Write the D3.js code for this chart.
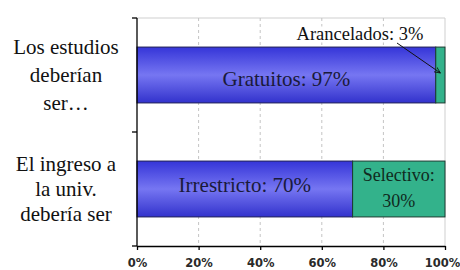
<!DOCTYPE html>
<html>
<head>
<meta charset="utf-8">
<script src="https://cdn.jsdelivr.net/npm/d3@7"></script>
<style>
  html, body { margin: 0; padding: 0; background: #fff; }
  .serif { font-family: 'Liberation Serif', 'Times New Roman', serif; }
</style>
</head>
<body>
<div id="chart"></div>
<script>
const categories = ['estudios', 'ingreso'];
const categoryLines = [['Los estudios', 'deberían', 'ser…'], ['El ingreso a', 'la univ.', 'debería ser']];
const firstValues = [97, 70];
const secondValues = [3, 30];
const firstLabels = ['Gratuitos: 97%', 'Irrestricto: 70%'];
const secondLabels = [['Arancelados: 3%'], ['Selectivo:', '30%']];
const tickValues = [0, 20, 40, 60, 80, 100];

const width = 460, height = 270;
const margin = {top: 18, right: 15, bottom: 24, left: 137};

const svg = d3.select('#chart').append('svg')
    .attr('width', width)
    .attr('height', height)
    .attr('viewBox', `0 0 ${width} ${height}`);

const x = d3.scaleLinear()
    .domain([0, 100])
    .range([margin.left, width - margin.right]);

const y = d3.scaleBand()
    .domain(categories)
    .range([margin.top, height - margin.bottom])
    .padding(0);

const barH = y.bandwidth() * 0.49;
const barY = c => y(c) + (y.bandwidth() - barH) / 2;

// blue gradient like the office chart
const defs = svg.append('defs');
const grad = defs.append('linearGradient')
    .attr('id', 'blue').attr('x1', 0).attr('y1', 0).attr('x2', 0).attr('y2', 1);
grad.append('stop').attr('offset', '0%').attr('stop-color', '#3535d8');
grad.append('stop').attr('offset', '50%').attr('stop-color', '#7676f2');
grad.append('stop').attr('offset', '100%').attr('stop-color', '#3232cc');

defs.append('marker')
    .attr('id', 'arrow')
    .attr('viewBox', '0 0 10 10')
    .attr('refX', 9).attr('refY', 5)
    .attr('markerWidth', 7).attr('markerHeight', 7)
    .attr('markerUnits', 'userSpaceOnUse')
    .attr('orient', 'auto')
  .append('path')
    .attr('d', 'M0,1 L9,5 L0,9')
    .attr('fill', 'none')
    .attr('stroke', '#111')
    .attr('stroke-width', 1.2);

// plot border (top and right) and dashed grid
svg.append('path')
    .attr('d', `M${x(0)},${margin.top}H${x(100)}V${height - margin.bottom}`)
    .attr('fill', 'none')
    .attr('stroke', '#cfcfcf');

svg.append('g')
  .selectAll('line')
  .data(tickValues.filter(d => d > 0 && d < 100))
  .join('line')
    .attr('x1', d => x(d)).attr('x2', d => x(d))
    .attr('y1', margin.top).attr('y2', height - margin.bottom)
    .attr('stroke', '#c4c4c4')
    .attr('stroke-dasharray', '3,3');

// bars
const bars = svg.append('g');
bars.selectAll('rect.first')
  .data(categories)
  .join('rect')
    .attr('class', 'first')
    .attr('x', x(0))
    .attr('y', barY)
    .attr('width', (d, i) => x(firstValues[i]) - x(0))
    .attr('height', barH)
    .attr('fill', 'url(#blue)')
    .attr('stroke', '#1c1c55')
    .attr('stroke-width', 1);

bars.selectAll('rect.second')
  .data(categories)
  .join('rect')
    .attr('class', 'second')
    .attr('x', (d, i) => x(firstValues[i]))
    .attr('y', barY)
    .attr('width', (d, i) => x(firstValues[i] + secondValues[i]) - x(firstValues[i]))
    .attr('height', barH)
    .attr('fill', '#33b28b')
    .attr('stroke', '#1c3a30')
    .attr('stroke-width', 1);

// labels inside the blue bars (first sits a bit low, second a bit high)
const labelDy = ['0.52em', '0.12em'];
svg.append('g')
  .selectAll('text')
  .data(categories)
  .join('text')
    .attr('class', 'serif')
    .attr('x', (d, i) => x(firstValues[i] / 2))
    .attr('y', d => y(d) + y.bandwidth() / 2)
    .attr('dy', (d, i) => labelDy[i])
    .attr('text-anchor', 'middle')
    .attr('font-size', 21)
    .attr('fill', '#1a1a3a')
    .text((d, i) => firstLabels[i]);

// Selectivo label inside green bar
const sel = svg.append('text')
    .attr('class', 'serif')
    .attr('x', x(firstValues[1] + secondValues[1] / 2))
    .attr('y', y(categories[1]) + y.bandwidth() / 2)
    .attr('text-anchor', 'middle')
    .attr('font-size', 18)
    .attr('fill', '#102a20');
secondLabels[1].forEach((t, j) => {
  sel.append('tspan')
      .attr('x', x(firstValues[1] + secondValues[1] / 2))
      .attr('dy', j === 0 ? '-0.45em' : '1.45em')
      .text(t);
});

// Arancelados callout with arrow
const ax = x(firstValues[0] + secondValues[0] / 2);
const ay = y(categories[0]) + y.bandwidth() / 2;
const callX = 360, callY = 34;
const call = svg.append('text')
    .attr('class', 'serif')
    .attr('x', callX)
    .attr('y', callY)
    .attr('dy', '0.35em')
    .attr('text-anchor', 'middle')
    .attr('font-size', 18.5)
    .attr('fill', '#111')
    .text(secondLabels[0][0]);
const bb = call.node().getBBox();
svg.insert('rect', () => call.node())
    .attr('x', bb.x - 2).attr('y', bb.y + 2)
    .attr('width', bb.width + 4).attr('height', bb.height - 4)
    .attr('fill', '#fff');
svg.append('line')
    .attr('x1', callX + 37).attr('y1', callY + 9)
    .attr('x2', ax).attr('y2', ay - 2)
    .attr('stroke', '#111')
    .attr('stroke-width', 1)
    .attr('marker-end', 'url(#arrow)');

// left axis with ticks on band edges
const edges = [...categories.map(c => y(c)), y.range()[1]];
svg.append('path')
    .attr('d', `M${x(0)},${margin.top}V${height - margin.bottom}`)
    .attr('stroke', '#000').attr('stroke-width', 1.3);
svg.append('g')
  .selectAll('line')
  .data(edges)
  .join('line')
    .attr('x1', x(0) - 5).attr('x2', x(0))
    .attr('y1', d => d).attr('y2', d => d)
    .attr('stroke', '#000').attr('stroke-width', 1.3);

// category labels
const lineGap = [28, 25];
const catG = svg.append('g');
categories.forEach((c, i) => {
  const lines = categoryLines[i];
  const cy = y(c) + y.bandwidth() / 2;
  lines.forEach((t, j) => {
    catG.append('text')
        .attr('class', 'serif')
        .attr('x', 66)
        .attr('y', cy + (j - (lines.length - 1) / 2) * lineGap[i])
        .attr('dy', '0.35em')
        .attr('text-anchor', 'middle')
        .attr('font-size', 21)
        .attr('fill', '#111')
        .text(t);
  });
});

// bottom axis
const xAxis = g => g
    .attr('transform', `translate(0,${height - margin.bottom})`)
    .call(d3.axisBottom(x).tickValues(tickValues).tickFormat(d => d + '%').tickSize(4).tickSizeOuter(0))
    .call(g => g.select('.domain').attr('stroke-width', 1.3))
    .call(g => g.selectAll('.tick line').attr('stroke-width', 1.3))
    .call(g => g.selectAll('.tick text')
        .attr('font-family', '"DejaVu Sans", sans-serif')
        .attr('font-size', 11.5)
        .attr('font-weight', 'bold')
        .attr('fill', '#2a2a2a')
        .attr('dy', '1.25em'))
    // keep the last label inside the window
    .call(g => g.select('.tick:last-of-type text').attr('dx', -3));

svg.append('g').call(xAxis);
</script>
</body>
</html>
